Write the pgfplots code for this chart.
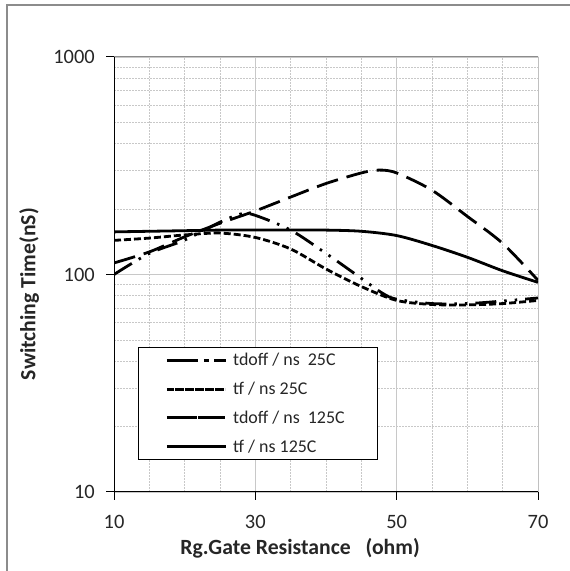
\documentclass[border=0pt]{standalone}
\usepackage{pgfplots}
\pgfplotsset{compat=1.18}
\usepackage{fontspec}
\setmainfont{Carlito}
\definecolor{majgrid}{HTML}{C8C8C8}
\definecolor{mingrid}{HTML}{C8C8C8}
\definecolor{frame}{HTML}{8C8C8C}
\begin{document}
\begin{tikzpicture}[x=1bp,y=1bp]
\useasboundingbox (0,0) rectangle (570,571);
\draw[frame, line width=1.5bp] (7,0) -- (7,566) -- (570,566);
\begin{axis}[
  at={(114bp,79bp)}, anchor=south west,
  scale only axis, width=424bp, height=435bp,
  xmin=10, xmax=70, ymin=10, ymax=1000,
  ymode=log,
  log ticks with fixed point,
  xtick={10,30,50,70},
  minor x tick num=3,
  ytick={10,100,1000},
  yticklabels={10,100,1000},
  /pgf/number format/assume math mode=true,
  tick label style={font=\fontsize{20.5}{22}\selectfont, text=black!85, inner sep=0pt},
  grid=both,
  major grid style={majgrid, line width=0.8bp},
  minor grid style={mingrid, dashed, dash pattern=on 1.5bp off 1.5bp, line width=0.6bp},
  axis lines*=left,
  axis line style={black, line width=1bp, -},
  tick align=outside,
  major tick length=8bp,
  minor tick length=0bp,
  tick style={black, line width=1bp},
  xticklabel style={anchor=north, yshift=-15bp},
  yticklabel style={anchor=east, xshift=-11bp},
  xlabel={Rg.Gate Resistance\ \ \ (ohm)},
  ylabel={Switching Time(nS)},
  label style={font=\bfseries\fontsize{21.8}{23}\selectfont, text=black!85},
  x label style={at={(axis description cs:0.439,-0.129)}, anchor=center},
  y label style={at={(axis description cs:-0.2,0.455)}, anchor=center, rotate=0},
  no markers,
  legend cell align=left,
  legend style={at={(0.0566,0.3333)}, anchor=north west, draw=black, line width=0.8bp,
    fill=white, font=\fontsize{18}{18}\selectfont, inner xsep=27bp, inner ysep=6bp,
    nodes={inner ysep=0pt, inner xsep=6bp},
    row sep=14.8bp, text=black!85},
  legend image code/.code={\path (0bp,0bp) -- (59bp,0bp); \draw[line width=2.8bp, #1] (8bp,0bp) -- (58bp,0bp);},
  every axis plot/.append style={line width=2.8bp, black, smooth, tension=0.5},
]
\draw[frame, line width=1bp] (rel axis cs:0,1) -- (rel axis cs:1,1) -- (rel axis cs:1,0);
\addplot[dash pattern=on 21bp off 8bp on 2.5bp off 8bp on 2.5bp off 8bp] coordinates {
(10,100) (15,125) (20,144) (25,174) (28,190) (30,187) (35,160) (40,125) (45,96) (48,82) (50,77) (55,73.5) (60,73.5) (65,75.5) (70,78)};
\addlegendentry{tdoff / ns\ \ 25C}
\addplot[dash pattern=on 7bp off 3bp] coordinates {
(10,143.5) (15,147) (20,152) (25,155) (30,148) (35,131) (40,106) (45,88) (50,76) (55,72.8) (60,72.5) (65,73.5) (70,76)};
\addlegendentry{tf / ns 25C}
\addplot[dash pattern=on 22bp off 9bp] coordinates {
(10,113) (15,127) (20,149) (25,172) (30,196) (35,227) (40,262) (45,293) (47.5,302) (50,293) (55,244) (60,185) (65,139) (70,94)};
\addlegendentry{tdoff / ns\ \ 125C}
\addplot coordinates {
(10,157) (15,158) (20,159) (25,160) (30,160) (35,160) (40,160) (45,158) (50,151) (55,136) (60,120) (65,104) (70,92)};
\addlegendentry{tf / ns 125C}
\end{axis}
\end{tikzpicture}
\end{document}
